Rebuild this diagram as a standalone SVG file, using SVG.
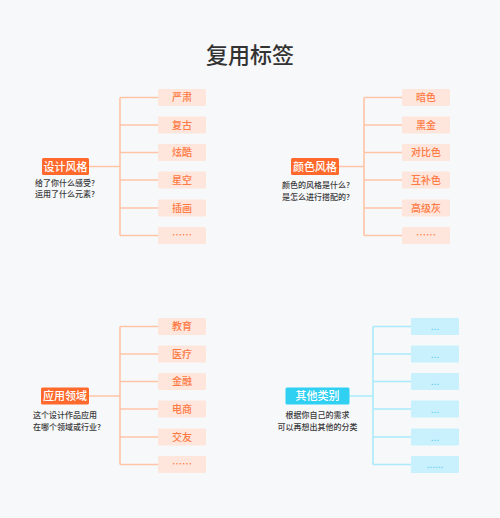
<svg xmlns="http://www.w3.org/2000/svg" width="500" height="518" viewBox="0 0 500 518">
<style>
.t{font-family:"Noto Sans CJK SC","Noto Sans",sans-serif}
.title{font-size:22px;fill:#333;font-weight:500}
.main{fill:#ff6a2c}
.maintx{font-size:11px;fill:#fff;font-weight:500}
.leaf{fill:#fee6dc}
.leaftx{font-size:10px;fill:#ff7a45;font-weight:500}
.cmain{fill:#2fd0f2}
.cleaf{fill:#c8f1fd}
.cleaftx{font-size:10px;fill:#5cc9ec}
.sub{font-size:8px;fill:#3a3a3a;font-weight:500}
.ol{stroke:#ffc3a6;stroke-width:1.6;fill:none}
.cl{stroke:#a9eafb;stroke-width:1.6;fill:none}
</style>
<rect width="500" height="518" fill="#f7f8fa"/>
<text class="t title" x="250" y="63" text-anchor="middle">复用标签</text>
<g id="connectors">
<path class="ol" d="M89 166.5H120M120 97.5V235.5M120 97.5H158M120 125H158M120 152.5H158M120 180H158M120 208H158M120 235.5H158"/>
<path class="ol" d="M339 166.5H364M364 97.5V235.5M364 97.5H402M364 125H402M364 152.5H402M364 180H402M364 208H402M364 235.5H402"/>
<path class="ol" d="M89 396H120M120 326.5V464.5M120 326.5H158M120 354H158M120 381.5H158M120 409H158M120 437H158M120 464.5H158"/>
<path class="cl" d="M349 396H373M373 326.5V464.5M373 326.5H411M373 354H411M373 381.5H411M373 409H411M373 437H411M373 464.5H411"/>
</g>
<g id="n1">
<rect class="main" x="42" y="158" width="47" height="17" rx="1.5"/>
<text class="t maintx" x="65.5" y="170.5" text-anchor="middle">设计风格</text>
<text class="t sub" x="35" y="186">给了你什么感受?</text>
<text class="t sub" x="35" y="197">运用了什么元素?</text>
</g>
<g id="n1-leaves">
<rect class="leaf" x="158" y="89" width="48" height="17" rx="1"/><text class="t leaftx" x="182" y="101" text-anchor="middle">严肃</text>
<rect class="leaf" x="158" y="116.5" width="48" height="17" rx="1"/><text class="t leaftx" x="182" y="128.5" text-anchor="middle">复古</text>
<rect class="leaf" x="158" y="144" width="48" height="17" rx="1"/><text class="t leaftx" x="182" y="156" text-anchor="middle">炫酷</text>
<rect class="leaf" x="158" y="171.5" width="48" height="17" rx="1"/><text class="t leaftx" x="182" y="183.5" text-anchor="middle">星空</text>
<rect class="leaf" x="158" y="199.5" width="48" height="17" rx="1"/><text class="t leaftx" x="182" y="211.5" text-anchor="middle">插画</text>
<rect class="leaf" x="158" y="227" width="48" height="17" rx="1"/><text class="t leaftx" x="182" y="239" text-anchor="middle">……</text>
</g>
<g id="n2">
<rect class="main" x="291" y="158" width="48" height="17" rx="1.5"/>
<text class="t maintx" x="315" y="170.5" text-anchor="middle">颜色风格</text>
<text class="t sub" x="282" y="188">颜色的风格是什么?</text>
<text class="t sub" x="282" y="199.5">是怎么进行搭配的?</text>
</g>
<g id="n2-leaves">
<rect class="leaf" x="402" y="89" width="48" height="17" rx="1"/><text class="t leaftx" x="426" y="101" text-anchor="middle">暗色</text>
<rect class="leaf" x="402" y="116.5" width="48" height="17" rx="1"/><text class="t leaftx" x="426" y="128.5" text-anchor="middle">黑金</text>
<rect class="leaf" x="402" y="144" width="48" height="17" rx="1"/><text class="t leaftx" x="426" y="156" text-anchor="middle">对比色</text>
<rect class="leaf" x="402" y="171.5" width="48" height="17" rx="1"/><text class="t leaftx" x="426" y="183.5" text-anchor="middle">互补色</text>
<rect class="leaf" x="402" y="199.5" width="48" height="17" rx="1"/><text class="t leaftx" x="426" y="211.5" text-anchor="middle">高级灰</text>
<rect class="leaf" x="402" y="227" width="48" height="17" rx="1"/><text class="t leaftx" x="426" y="239" text-anchor="middle">……</text>
</g>
<g id="n3">
<rect class="main" x="41" y="387.5" width="48" height="17" rx="1.5"/>
<text class="t maintx" x="65" y="400" text-anchor="middle">应用领域</text>
<text class="t sub" x="33" y="418">这个设计作品应用</text>
<text class="t sub" x="33" y="429.5">在哪个领域或行业?</text>
</g>
<g id="n3-leaves">
<rect class="leaf" x="158" y="318" width="48" height="17" rx="1"/><text class="t leaftx" x="182" y="330" text-anchor="middle">教育</text>
<rect class="leaf" x="158" y="345.5" width="48" height="17" rx="1"/><text class="t leaftx" x="182" y="357.5" text-anchor="middle">医疗</text>
<rect class="leaf" x="158" y="373" width="48" height="17" rx="1"/><text class="t leaftx" x="182" y="385" text-anchor="middle">金融</text>
<rect class="leaf" x="158" y="400.5" width="48" height="17" rx="1"/><text class="t leaftx" x="182" y="412.5" text-anchor="middle">电商</text>
<rect class="leaf" x="158" y="428.5" width="48" height="17" rx="1"/><text class="t leaftx" x="182" y="440.5" text-anchor="middle">交友</text>
<rect class="leaf" x="158" y="456" width="48" height="17" rx="1"/><text class="t leaftx" x="182" y="468" text-anchor="middle">……</text>
</g>
<g id="n4">
<rect class="cmain" x="285.5" y="387.5" width="64" height="17" rx="1.5"/>
<text class="t maintx" x="317.5" y="400" text-anchor="middle">其他类别</text>
<text class="t sub" x="317.5" y="418" text-anchor="middle">根据你自己的需求</text>
<text class="t sub" x="317.5" y="429.5" text-anchor="middle">可以再想出其他的分类</text>
</g>
<g id="n4-leaves">
<rect class="cleaf" x="411" y="318" width="48" height="17" rx="1"/><text class="t cleaftx" x="435" y="330" text-anchor="middle">...</text>
<rect class="cleaf" x="411" y="345.5" width="48" height="17" rx="1"/><text class="t cleaftx" x="435" y="357.5" text-anchor="middle">...</text>
<rect class="cleaf" x="411" y="373" width="48" height="17" rx="1"/><text class="t cleaftx" x="435" y="385" text-anchor="middle">...</text>
<rect class="cleaf" x="411" y="400.5" width="48" height="17" rx="1"/><text class="t cleaftx" x="435" y="412.5" text-anchor="middle">...</text>
<rect class="cleaf" x="411" y="428.5" width="48" height="17" rx="1"/><text class="t cleaftx" x="435" y="440.5" text-anchor="middle">...</text>
<rect class="cleaf" x="411" y="456" width="48" height="17" rx="1"/><text class="t cleaftx" x="435" y="468" text-anchor="middle">......</text>
</g>
</svg>
